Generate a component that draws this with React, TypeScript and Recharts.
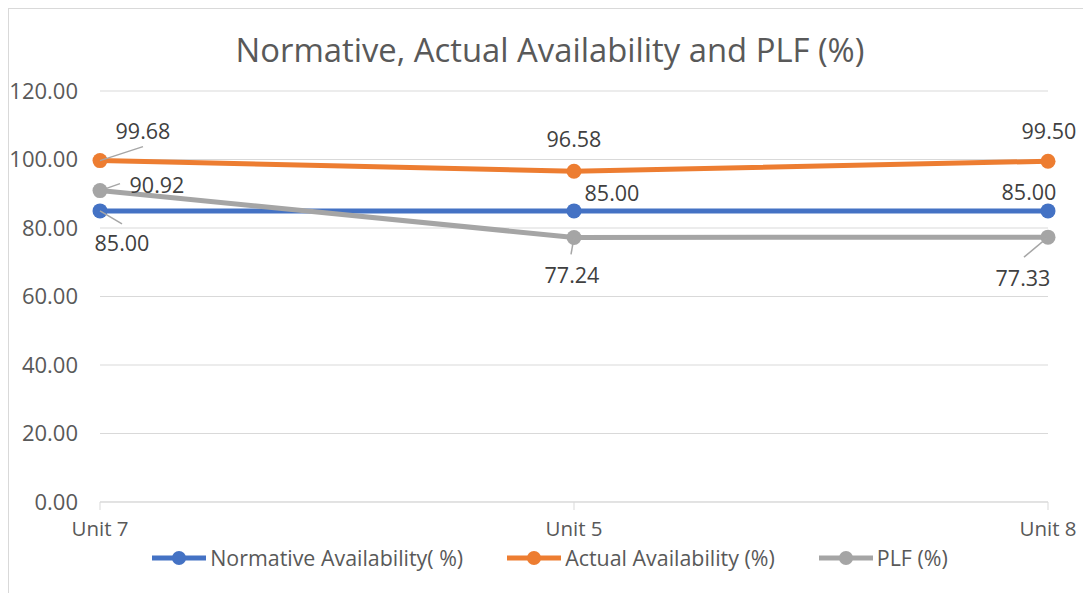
import * as React from "react"
import { LineChart, Line, XAxis, YAxis, CartesianGrid, LabelList, Legend } from "recharts"

// Chart data
const units = ["Unit 7", "Unit 5", "Unit 8"]
const normative = [85.0, 85.0, 85.0]
const actual = [99.68, 96.58, 99.5]
const plf = [90.92, 77.24, 77.33]
const yTicks = [0, 20, 40, 60, 80, 100, 120]

const SERIES = [
  { key: "normative", name: "Normative Availability( %)", color: "#4472C4" },
  { key: "actual", name: "Actual Availability (%)", color: "#ED7D31" },
  { key: "plf", name: "PLF (%)", color: "#A5A5A5" },
]

// label placement (text offset from point, optional leader line end)
const LABEL_POS: Record<string, { dx: number; dy: number; lead?: [number, number] }[]> = {
  normative: [
    { dx: 22, dy: 32, lead: [22, 13] },
    { dx: 38, dy: -18 },
    { dx: -19, dy: -19 },
  ],
  actual: [
    { dx: 43, dy: -30, lead: [43, -14] },
    { dx: 0, dy: -33 },
    { dx: 1, dy: -31 },
  ],
  plf: [
    { dx: 57, dy: -6, lead: [20, -7] },
    { dx: -2, dy: 37, lead: [-3, 17] },
    { dx: -25, dy: 40, lead: [-24, 20] },
  ],
}

const data = units.map((u, i) => ({
  unit: u,
  normative: normative[i],
  actual: actual[i],
  plf: plf[i],
}))

const FONT = "'Open Sans', sans-serif"

function makeLabel(key: string) {
  return (props: any) => {
    const { x, y, value, index } = props
    const pos = LABEL_POS[key][index]
    if (!pos) return null
    return (
      <g>
        {pos.lead && (
          <line x1={x} y1={y} x2={x + pos.lead[0]} y2={y + pos.lead[1]} stroke="#A6A6A6" strokeWidth={1.5} />
        )}
        <text
          x={x + pos.dx}
          y={y + pos.dy}
          textAnchor="middle"
          dominantBaseline="central"
          fontSize={21.5}
          fontFamily={FONT}
          fill="#404040"
        >
          {Number(value).toFixed(2)}
        </text>
      </g>
    )
  }
}

function LegendContent() {
  return (
    <div style={{ display: "flex", justifyContent: "center", alignItems: "center", fontFamily: FONT, fontSize: 21.4, color: "#595959" }}>
      {SERIES.map((s, i) => (
        <div key={s.key} style={{ display: "flex", alignItems: "center", marginLeft: i === 0 ? 0 : 44 }}>
          <svg width={54} height={16}>
            <line x1={0} y1={8} x2={54} y2={8} stroke={s.color} strokeWidth={5} />
            <circle cx={27} cy={8} r={7} fill={s.color} />
          </svg>
          <span style={{ marginLeft: 4 }}>{s.name}</span>
        </div>
      ))}
    </div>
  )
}

export default function App() {
  return (
    <div style={{ position: "relative", width: 1082, height: 584, border: "1px solid #D9D9D9", background: "#fff" }}>
      <div
        style={{
          position: "absolute",
          top: 18,
          left: 0,
          width: 1082,
          textAlign: "center",
          fontFamily: FONT,
          fontSize: 32.8,
          color: "#595959",
        }}
      >
        Normative, Actual Availability and PLF (%)
      </div>
      <LineChart width={1082} height={584} data={data} margin={{ top: 82, right: 43, bottom: 51, left: 0 }}>
        <CartesianGrid vertical={false} stroke="#D9D9D9" strokeWidth={1} />
        <XAxis
          dataKey="unit"
          axisLine={{ stroke: "#D9D9D9" }}
          tickLine={{ stroke: "#D9D9D9" }}
          tickSize={8}
          tickMargin={11}
          height={40}
          tick={{ fontSize: 20.5, fill: "#595959", fontFamily: FONT }}
        />
        <YAxis
          width={91}
          domain={[0, 120]}
          ticks={yTicks}
          axisLine={false}
          tickLine={false}
          tickSize={0}
          tickMargin={22}
          tickFormatter={(v: number) => v.toFixed(2)}
          tick={{ fontSize: 22, fill: "#595959", fontFamily: FONT }}
        />
        <Legend
          verticalAlign="middle"
          align="center"
          layout="horizontal"
          wrapperStyle={{ top: 534, left: 0, width: 1082 }}
          content={() => <LegendContent />}
        />
        {SERIES.map((s) => (
          <Line
            key={s.key}
            dataKey={s.key}
            name={s.name}
            stroke={s.color}
            strokeWidth={5}
            dot={{ r: 7.5, fill: s.color, stroke: s.color, strokeWidth: 0 }}
            activeDot={false}
            isAnimationActive={false}
          >
            <LabelList dataKey={s.key} content={makeLabel(s.key)} />
          </Line>
        ))}
      </LineChart>
    </div>
  )
}
